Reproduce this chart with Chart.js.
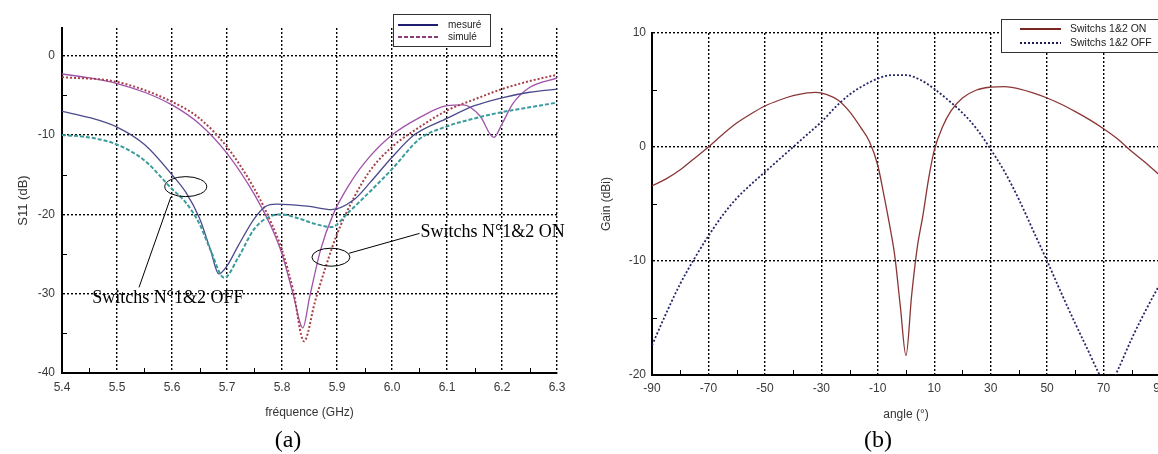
<!DOCTYPE html>
<html>
<head>
<meta charset="utf-8">
<script src="https://cdn.jsdelivr.net/npm/chart.js@4.4.1/dist/chart.umd.min.js"></script>
<style>
  html, body { margin: 0; padding: 0; background: #fff; overflow: hidden; }
  body { width: 1158px; height: 454px; position: relative; }
  #s11 { position: absolute; left: 0; top: 0; }
  #gain { position: absolute; left: 580px; top: 0; }
</style>
</head>
<body>
<canvas id="s11" width="580" height="454"></canvas>
<canvas id="gain" width="620" height="454"></canvas>
<script>
'use strict';

// ---- (a) S11 vs frequency ----
const freqTicks = [5.4, 5.5, 5.6, 5.7, 5.8, 5.9, 6.0, 6.1, 6.2, 6.3];
const s11Ticks = [-40, -30, -20, -10, 0];

// switches ON, measured (solid purple)
const freqOnMes = [5.40, 5.45, 5.50, 5.55, 5.60, 5.65, 5.70, 5.75, 5.78, 5.80, 5.82, 5.838, 5.85, 5.87, 5.893, 5.92, 5.95, 6.00, 6.05, 6.10, 6.13, 6.16, 6.185, 6.20, 6.22, 6.25, 6.30];
const s11OnMes = [-2.3, -2.8, -3.5, -4.6, -6.2, -8.6, -12.3, -17.5, -21.5, -25, -30, -34.3, -30.5, -24.5, -20, -16.5, -13.5, -10, -7.8, -6.3, -6.2, -7.6, -10.3, -8.6, -6.0, -4.0, -2.8];

// switches ON, simulated (dotted maroon)
const freqOnSim = [5.40, 5.50, 5.60, 5.65, 5.70, 5.75, 5.78, 5.80, 5.82, 5.84, 5.86, 5.88, 5.90, 5.93, 5.96, 6.00, 6.05, 6.10, 6.15, 6.20, 6.25, 6.30];
const s11OnSim = [-2.7, -3.3, -5.8, -7.9, -11.5, -16.8, -21, -24.5, -29.5, -36, -31, -26.5, -22.5, -18, -14.5, -11.5, -9.0, -6.9, -5.5, -4.2, -3.2, -2.4];

// switches OFF, measured (solid navy)
const freqOffMes = [5.40, 5.45, 5.50, 5.55, 5.60, 5.625, 5.65, 5.67, 5.685, 5.70, 5.72, 5.75, 5.77, 5.79, 5.82, 5.85, 5.89, 5.93, 5.96, 6.00, 6.04, 6.10, 6.15, 6.20, 6.25, 6.30];
const s11OffMes = [-7.0, -7.8, -9.0, -11.2, -15.0, -17.2, -20.5, -24.5, -27.5, -26.5, -24, -20.5, -19.0, -18.7, -18.8, -19.0, -19.4, -18.2, -16.0, -12.8, -10.0, -7.9, -6.3, -5.3, -4.6, -4.2];

// switches OFF, simulated (dashed teal)
const freqOffSim = [5.40, 5.45, 5.50, 5.55, 5.60, 5.625, 5.65, 5.67, 5.695, 5.72, 5.75, 5.78, 5.80, 5.83, 5.86, 5.89, 5.92, 5.95, 6.00, 6.05, 6.10, 6.15, 6.20, 6.25, 6.30];
const s11OffSim = [-10.0, -10.3, -11.2, -13.2, -16.8, -18.5, -21.2, -24.5, -28, -25.5, -21.8, -20.2, -20.0, -20.5, -21.2, -21.6, -19.8, -17.8, -14.3, -10.5, -8.9, -7.9, -7.1, -6.5, -5.9];

const legendA = ['mesuré', 'simulé'];

// ---- (b) gain vs angle ----
const angleTicks = [-90, -70, -50, -30, -10, 10, 30, 50, 70, 90];
const gainTicks = [-20, -10, 0, 10];

const angleOn = [-90, -85, -80, -75, -70, -65, -60, -55, -50, -45, -40, -35, -32, -28, -24, -20, -16, -13, -10, -8, -6, -4, -2, 0, 2, 4, 6, 8, 10, 13, 16, 20, 25, 30, 35, 40, 45, 50, 55, 60, 65, 70, 75, 80, 85, 90];
const gainOn = [-3.4, -2.8, -2.0, -1.0, 0.0, 1.1, 2.1, 2.9, 3.6, 4.1, 4.5, 4.75, 4.8, 4.6, 4.1, 3.1, 1.7, 0.5, -1.6, -4.0, -6.6, -9.5, -14.0, -18.3, -13.0, -8.8, -6.0, -2.8, -0.3, 1.8, 3.2, 4.3, 5.0, 5.25, 5.3, 5.1, 4.75, 4.3, 3.75, 3.1, 2.4, 1.6, 0.7, -0.4, -1.4, -2.5];

const angleOff = [-90, -85, -80, -75, -70, -65, -60, -55, -50, -45, -40, -35, -30, -25, -20, -15, -10, -5, 0, 5, 10, 15, 20, 25, 30, 35, 40, 45, 50, 55, 60, 65, 68, 71.5, 75, 80, 85, 90];
const gainOff = [-17.4, -14.6, -12.0, -9.8, -7.8, -6.0, -4.5, -3.3, -2.2, -1.1, 0.0, 1.1, 2.2, 3.5, 4.6, 5.4, 6.0, 6.3, 6.3, 5.9, 5.1, 4.1, 3.0, 1.6, -0.2, -2.2, -4.6, -7.3, -10.0, -12.8, -15.5, -18.1, -19.7, -21.3, -19.6, -16.8, -14.3, -12.0];

const legendB = ['Switchs 1&2 ON', 'Switchs 1&2 OFF'];

const pts = (xs, ys) => xs.map((x, i) => ({x: x, y: ys[i]}));
const mids = t => t.slice(1).map((v, i) => (v + t[i]) / 2);

const tickFont = {family: '"Liberation Sans", Arial, sans-serif', size: 12};
const sans = '"Liberation Sans", Arial, sans-serif';
const serif = '"Liberation Serif", "Times New Roman", serif';

// axis titles, minor ticks, boxed legend, annotations
const decor = {
  id: 'decor',
  afterDraw(chart, args, o) {
    const {ctx, chartArea: a} = chart;
    const x = chart.scales.x, y = chart.scales.y;
    ctx.save();

    // inward minor ticks
    ctx.strokeStyle = '#000';
    ctx.lineWidth = 1;
    ctx.beginPath();
    mids(o.xTicks).forEach(v => {
      const px = Math.round(x.getPixelForValue(v)) + 0.5;
      ctx.moveTo(px, a.bottom);
      ctx.lineTo(px, a.bottom - 5);
    });
    mids(o.yTicks).forEach(v => {
      const py = Math.round(y.getPixelForValue(v)) + 0.5;
      ctx.moveTo(a.left, py);
      ctx.lineTo(a.left + 5, py);
    });
    ctx.stroke();

    // axis titles
    ctx.fillStyle = '#333';
    ctx.textAlign = 'center';
    ctx.textBaseline = 'middle';
    ctx.font = '12px ' + sans;
    ctx.fillText(o.xTitle, (a.left + a.right) / 2, o.xTitleY);
    ctx.save();
    ctx.translate(o.yTitleX, (a.top + a.bottom) / 2);
    ctx.rotate(-Math.PI / 2);
    ctx.font = o.yTitleSize + 'px ' + sans;
    ctx.fillText(o.yTitle, 0, 0);
    ctx.restore();

    // panel label
    ctx.fillStyle = '#000';
    ctx.font = '24px ' + serif;
    ctx.fillText(o.panel, o.panelX, 441);

    // legend box
    const L = o.legend;
    ctx.fillStyle = '#fff';
    ctx.fillRect(L.x, L.y, L.w, L.h);
    ctx.strokeStyle = '#333';
    ctx.lineWidth = 1;
    ctx.strokeRect(L.x + 0.5, L.y + 0.5, L.w, L.h);
    L.items.forEach((it, i) => {
      const ly = L.y + L.row0 + i * L.rowGap;
      ctx.save();
      ctx.strokeStyle = it.color;
      ctx.lineWidth = 2;
      ctx.setLineDash(it.dash);
      ctx.beginPath();
      ctx.moveTo(L.x + L.line0, ly);
      ctx.lineTo(L.x + L.line1, ly);
      ctx.stroke();
      ctx.restore();
      ctx.fillStyle = '#222';
      ctx.textAlign = 'left';
      ctx.font = L.font + 'px ' + sans;
      ctx.fillText(it.label, L.x + L.text0, ly);
    });

    // annotations anchored on the data scales
    if (o.notes) {
      ctx.strokeStyle = '#000';
      ctx.lineWidth = 1;
      o.notes.ellipses.forEach(e => {
        ctx.beginPath();
        ctx.ellipse(x.getPixelForValue(e.x), y.getPixelForValue(e.y), e.rx, e.ry, 0, 0, Math.PI * 2);
        ctx.stroke();
      });
      o.notes.leaders.forEach(l => {
        ctx.beginPath();
        ctx.moveTo(x.getPixelForValue(l[0]), y.getPixelForValue(l[1]));
        ctx.lineTo(x.getPixelForValue(l[2]), y.getPixelForValue(l[3]));
        ctx.stroke();
      });
      ctx.fillStyle = '#000';
      ctx.textAlign = 'left';
      ctx.font = '18px ' + serif;
      o.notes.texts.forEach(t => {
        ctx.fillText(t.text, x.getPixelForValue(t.x), y.getPixelForValue(t.y));
      });
    }
    ctx.restore();
  }
};

function axes(xTicks, xMin, xMax, xFmt, yTicks, yMin, yMax, yWidth, xHeight, xPad, yPad) {
  const grid = {color: '#000', lineWidth: 1.4, drawTicks: false};
  const border = {display: true, color: '#000', width: 2, dash: [2, 2]};
  return {
    x: {
      type: 'linear', min: xMin, max: xMax,
      afterBuildTicks: s => { s.ticks = xTicks.map(v => ({value: v})); },
      afterFit: s => { s.height = xHeight; },
      grid: grid, border: border,
      ticks: {font: tickFont, color: '#3a3a3a', padding: xPad, autoSkip: false, maxRotation: 0, callback: xFmt}
    },
    y: {
      type: 'linear', min: yMin, max: yMax,
      afterBuildTicks: s => { s.ticks = yTicks.map(v => ({value: v})); },
      afterFit: s => { s.width = yWidth; },
      grid: grid, border: border,
      ticks: {font: tickFont, color: '#3a3a3a', padding: yPad, callback: v => String(v)}
    }
  };
}

const lineDefaults = {pointRadius: 0, fill: false, cubicInterpolationMode: 'monotone'};

new Chart(document.getElementById('s11'), {
  type: 'line',
  data: {
    datasets: [
      Object.assign({label: 'OFF simulé', data: pts(freqOffSim, s11OffSim), borderColor: '#3a9c9c', borderWidth: 2, borderDash: [4, 2]}, lineDefaults),
      Object.assign({label: 'OFF mesuré', data: pts(freqOffMes, s11OffMes), borderColor: '#4a4a8c', borderWidth: 1.3}, lineDefaults),
      Object.assign({label: 'ON simulé', data: pts(freqOnSim, s11OnSim), borderColor: '#a8404a', borderWidth: 2, borderDash: [2, 2]}, lineDefaults),
      Object.assign({label: 'ON mesuré', data: pts(freqOnMes, s11OnMes), borderColor: '#a052aa', borderWidth: 1.3}, lineDefaults)
    ]
  },
  options: {
    responsive: false,
    animation: false,
    devicePixelRatio: 1,
    layout: {padding: {left: 0, top: 28, right: 23, bottom: 0}},
    scales: axes(freqTicks, 5.4, 6.3, v => v.toFixed(1), s11Ticks, -40, 3.5, 62, 81, 7, 7),
    plugins: {
      legend: {display: false},
      tooltip: {enabled: false},
      decor: {
        xTicks: freqTicks, yTicks: s11Ticks,
        xTitle: 'fréquence (GHz)', xTitleY: 413,
        yTitle: 'S11 (dB)', yTitleX: 23, yTitleSize: 13,
        panel: '(a)', panelX: 288,
        legend: {
          x: 393, y: 14, w: 97, h: 32, row0: 11, rowGap: 12, line0: 5, line1: 45, text0: 55, font: 10,
          items: [
            {label: legendA[0], color: '#1e1e6e', dash: []},
            {label: legendA[1], color: '#8b3a7a', dash: [4, 2]}
          ]
        },
        notes: {
          ellipses: [{x: 5.625, y: -16.5, rx: 21, ry: 10}, {x: 5.889, y: -25.4, rx: 19, ry: 9}],
          leaders: [[5.54, -29.2, 5.598, -17.8], [5.922, -24.9, 6.05, -22.4]],
          texts: [{x: 5.455, y: -30.6, text: 'Switchs N°1&2 OFF'}, {x: 6.052, y: -22.2, text: 'Switchs N°1&2 ON'}]
        }
      }
    }
  },
  plugins: [decor]
});

new Chart(document.getElementById('gain'), {
  type: 'line',
  data: {
    datasets: [
      Object.assign({label: legendB[1], data: pts(angleOff, gainOff), borderColor: '#26266a', borderWidth: 1.8, borderDash: [2, 2]}, lineDefaults),
      Object.assign({label: legendB[0], data: pts(angleOn, gainOn), borderColor: '#8b3636', borderWidth: 1.3}, lineDefaults)
    ]
  },
  options: {
    responsive: false,
    animation: false,
    devicePixelRatio: 1,
    layout: {padding: {left: 0, top: 33, right: 40, bottom: 0}},
    scales: axes(angleTicks, -90, 90, v => String(v), gainTicks, -20, 10, 72, 79, 6, 6),
    plugins: {
      legend: {display: false},
      tooltip: {enabled: false},
      decor: {
        xTicks: angleTicks, yTicks: gainTicks,
        xTitle: 'angle (°)', xTitleY: 415,
        yTitle: 'Gain (dBi)', yTitleX: 27, yTitleSize: 12,
        panel: '(b)', panelX: 298,
        legend: {
          x: 421, y: 19, w: 170, h: 33, row0: 10, rowGap: 14, line0: 19, line1: 60, text0: 69, font: 10.5,
          items: [
            {label: legendB[0], color: '#7a2424', dash: []},
            {label: legendB[1], color: '#1a1a50', dash: [2, 2]}
          ]
        }
      }
    }
  },
  plugins: [decor]
});
</script>
</body>
</html>
